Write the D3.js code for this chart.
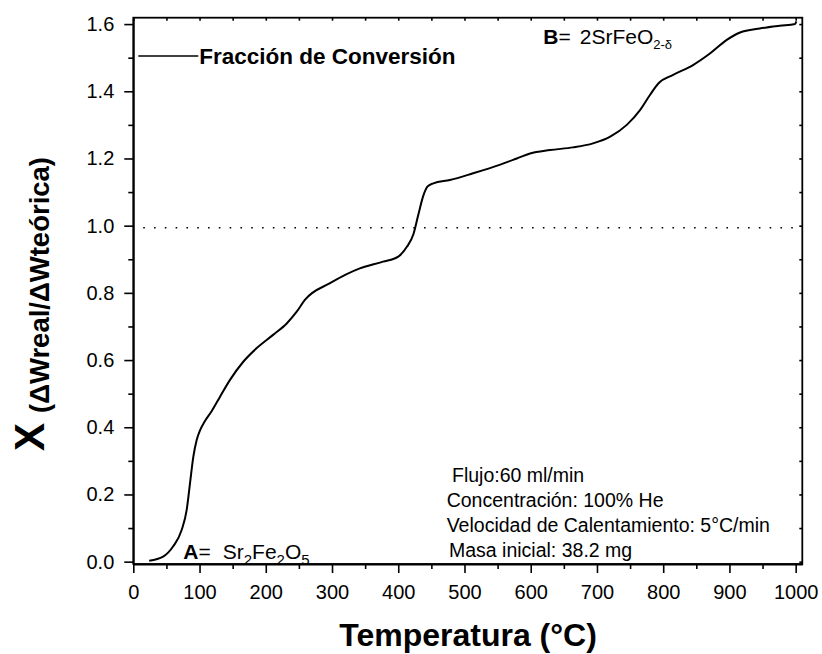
<!DOCTYPE html>
<html><head><meta charset="utf-8">
<script src="https://cdn.jsdelivr.net/npm/d3@7"></script>
<style>body{margin:0;background:#fff}svg{display:block}text{font-family:"Liberation Sans",Arial,sans-serif}</style>
</head><body><svg id="c" width="822" height="654"></svg>
<script>
const temps = [24,45,60,73,80.6,85.6,90.6,95.7,101,108,118,131,146,166,186,211,231.6,246.7,259,297,342,377,400,413,423,430,438,444,453,478,513,553,579,599,629,664,694,720,745,765,780,793,815,845,871,896,916,946,976,999,1001];
const conv  = [0.003,0.015,0.045,0.094,0.154,0.233,0.312,0.362,0.392,0.418,0.447,0.491,0.541,0.595,0.635,0.675,0.709,0.744,0.779,0.829,0.873,0.893,0.908,0.937,0.975,1.03,1.09,1.116,1.126,1.136,1.156,1.181,1.2,1.215,1.225,1.233,1.245,1.265,1.3,1.344,1.389,1.424,1.449,1.478,1.513,1.553,1.575,1.587,1.595,1.6,1.608];
const xTicks = [0,100,200,300,400,500,600,700,800,900,1000];
const yTicks = [0.0,0.2,0.4,0.6,0.8,1.0,1.2,1.4,1.6];
const refValue = 0.994;
const refRange = [15,1001];
const legendLabel = "Fracción de Conversión";
const xTitle = "Temperatura (°C)";
const yTitleMain = "X";
const yTitleSub = "(ΔWreal/ΔWteórica)";
const infoLines = ["Flujo:60 ml/min","Concentración: 100% He","Velocidad de Calentamiento: 5°C/min","Masa inicial: 38.2 mg"];

const svg = d3.select("#c");
const L=133.3, R=802.3, T=17.7, B=564;
const x = d3.scaleLinear().domain([0,1010]).range([L,R]);
const y = d3.scaleLinear().domain([-0.007,1.619]).range([B,T]);

const xMinor = d3.range(50,1001,100);
const yMinor = d3.range(0.1,1.61,0.2);

// dotted reference line
svg.append("line").attr("x1",x(refRange[0])).attr("x2",x(refRange[1]))
  .attr("y1",y(refValue)).attr("y2",y(refValue))
  .attr("stroke","#000").attr("stroke-width",1.6).attr("stroke-dasharray","1.6 9.2");

// curve
const pts = temps.map((t,i)=>[t,conv[i]]);
svg.append("path").datum(pts)
  .attr("d",d3.line().x(d=>x(d[0])).y(d=>y(d[1])).curve(d3.curveMonotoneX))
  .attr("fill","none").attr("stroke","#000").attr("stroke-width",2);

// frame
svg.append("rect").attr("x",L).attr("y",T).attr("width",R-L).attr("height",B-T)
  .attr("fill","none").attr("stroke","#000").attr("stroke-width",1.8);

// bottom axis
const gx = svg.append("g").attr("transform",`translate(0,${B})`)
  .call(d3.axisBottom(x).tickValues(xTicks).tickFormat(d3.format("d")).tickSizeInner(9).tickSizeOuter(0).tickPadding(12));
gx.selectAll("text").attr("font-size",20).attr("fill","#000").style("font-family","Liberation Sans, Arial, sans-serif");
svg.append("g").attr("transform",`translate(0,${B})`)
  .call(d3.axisBottom(x).tickValues(xMinor).tickFormat("").tickSizeInner(5).tickSizeOuter(0))
  .select(".domain").remove();

// left axis
const gy = svg.append("g").attr("transform",`translate(${L},0)`)
  .call(d3.axisLeft(y).tickValues(yTicks).tickFormat(d3.format(".1f")).tickSizeInner(9).tickSizeOuter(0).tickPadding(10));
gy.selectAll("text").attr("font-size",20).attr("fill","#000").style("font-family","Liberation Sans, Arial, sans-serif");
svg.append("g").attr("transform",`translate(${L},0)`)
  .call(d3.axisLeft(y).tickValues(yMinor).tickFormat("").tickSizeInner(5).tickSizeOuter(0))
  .select(".domain").remove();

// top and right small inward ticks
svg.append("g").attr("transform",`translate(0,${T})`)
  .call(d3.axisBottom(x).tickValues(d3.range(0,1001,50)).tickFormat("").tickSizeInner(3).tickSizeOuter(0))
  .select(".domain").remove();
svg.append("g").attr("transform",`translate(${R},0)`)
  .call(d3.axisLeft(y).tickValues(d3.range(0,1.61,0.1)).tickFormat("").tickSizeInner(3).tickSizeOuter(0))
  .select(".domain").remove();
svg.selectAll(".tick line").attr("stroke","#000").attr("stroke-width",1.6);
svg.selectAll(".domain").attr("stroke","#000").attr("stroke-width",1.8);

// legend
svg.append("line").attr("x1",138.3).attr("x2",198.3).attr("y1",56).attr("y2",56).attr("stroke","#000").attr("stroke-width",1.6);
svg.append("text").attr("x",199.3).attr("y",63.5).attr("font-size",22.5).attr("font-weight","bold").text(legendLabel);

// axis titles
svg.append("text").attr("x",468).attr("y",646).attr("text-anchor","middle").attr("font-size",32).attr("font-weight","bold").text(xTitle);
svg.append("text").attr("transform","translate(44,437) rotate(-90)").attr("text-anchor","middle")
  .attr("font-weight","bold").attr("font-size",42).text(yTitleMain);
svg.append("text").attr("transform","translate(49,285) rotate(-90)").attr("text-anchor","middle")
  .attr("font-weight","bold").attr("font-size",27.5).text(yTitleSub);

// annotations
const a = svg.append("text").attr("x",183.3).attr("y",559).attr("font-size",21);
a.append("tspan").attr("font-weight","bold").text("A");
a.append("tspan").text("=");
a.append("tspan").attr("dx",12).text("Sr");
a.append("tspan").attr("font-size",15).attr("dy",6).text("2");
a.append("tspan").attr("dy",-6).text("Fe");
a.append("tspan").attr("font-size",15).attr("dy",6).text("2");
a.append("tspan").attr("dy",-6).text("O");
a.append("tspan").attr("font-size",15).attr("dy",6).text("5");

const b = svg.append("text").attr("x",543.3).attr("y",44.3).attr("font-size",21);
b.append("tspan").attr("font-weight","bold").text("B");
b.append("tspan").text("=");
b.append("tspan").attr("dx",9).text("2SrFeO");
b.append("tspan").attr("font-size",13).attr("dy",5).text("2-δ");

// info block
const infoX = [452,446.7,446.7,449];
const infoY = [482,507,532.3,557.3];
infoLines.forEach((s,i)=>{
  svg.append("text").attr("x",infoX[i]).attr("y",infoY[i]).attr("font-size",19.5).text(s);
});
</script></body></html>
